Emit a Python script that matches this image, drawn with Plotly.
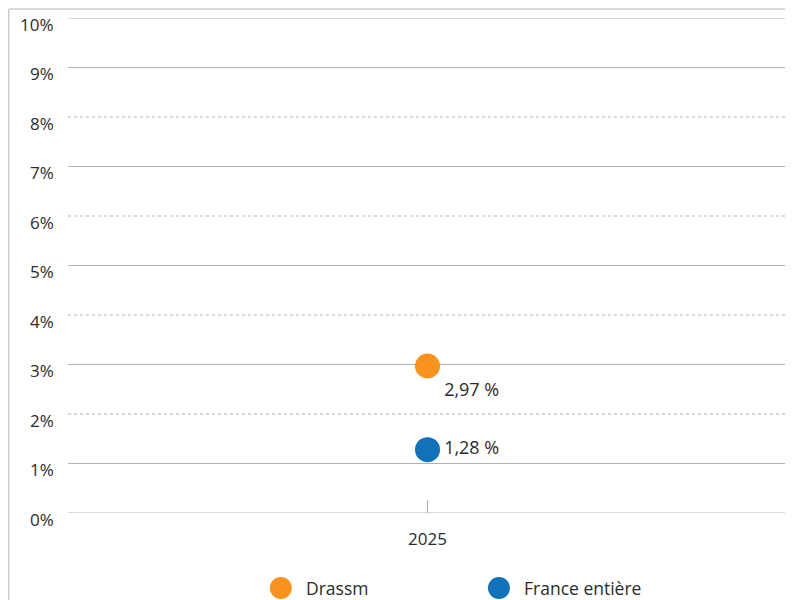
import plotly.graph_objects as go

categories = ["2025"]
series_names = ["Drassm", "France entière"]
drassm_values = [2.97]
france_values = [1.28]
drassm_labels = ["2,97 %"]
france_labels = ["1,28 %"]
y_ticks = [0, 1, 2, 3, 4, 5, 6, 7, 8, 9, 10]
y_tick_labels = [f"{v}%" for v in y_ticks]

ORANGE = "#F7931E"
BLUE = "#1172BA"
TEXT = "#2b2b2b"
GRID = "#b3b3b3"
FONT = "Open Sans"

fig = go.Figure()
fig.add_trace(go.Scatter(
    x=categories, y=drassm_values, mode="markers+text", name=series_names[0],
    marker=dict(size=25, color=ORANGE), text=drassm_labels,
    textposition="bottom right", textfont=dict(size=18, color=TEXT, family=FONT),
    showlegend=False, cliponaxis=False))
fig.add_trace(go.Scatter(
    x=categories, y=france_values, mode="markers+text", name=series_names[1],
    marker=dict(size=25, color=BLUE), text=france_labels,
    textposition="middle right", textfont=dict(size=18, color=TEXT, family=FONT),
    showlegend=False, cliponaxis=False))

shapes = []
annotations = []
for v, lab in zip(y_ticks, y_tick_labels):
    dotted = (v % 2 == 0) and v not in (y_ticks[0], y_ticks[-1])
    shapes.append(dict(type="line", xref="paper", yref="y", x0=0, x1=1, y0=v, y1=v,
                       line=dict(color=GRID, width=1, dash="dot" if dotted else "solid"),
                       layer="below"))
    # y tick labels, sitting slightly below their gridline as in the reference
    annotations.append(dict(xref="paper", yref="y", x=0, y=v, text=lab,
                            showarrow=False, xanchor="right", yanchor="middle",
                            xshift=-12, yshift=-6,
                            font=dict(size=17, color=TEXT, family=FONT)))

# outer frame lines (left and top)
shapes.append(dict(type="line", xref="paper", yref="paper", x0=-0.0824, x1=-0.0824,
                   y0=1.0182, y1=-0.2, line=dict(color="#cccccc", width=1.5)))
shapes.append(dict(type="line", xref="paper", yref="paper", x0=-0.0824, x1=1.02,
                   y0=1.0182, y1=1.0182, line=dict(color="#cccccc", width=1.5)))

# custom legend
legend_x = [0.296, 0.5994]
legend_colors = [ORANGE, BLUE]
for name, lx, col in zip(series_names, legend_x, legend_colors):
    shapes.append(dict(type="circle", xref="paper", yref="paper",
                       xsizemode="pixel", ysizemode="pixel",
                       xanchor=lx, yanchor=-0.1515,
                       x0=-11, x1=11, y0=-11, y1=11,
                       fillcolor=col, line=dict(width=0)))
    annotations.append(dict(xref="paper", yref="paper", x=lx, y=-0.1515,
                            xshift=23, text=name, showarrow=False,
                            xanchor="left", yanchor="middle",
                            font=dict(size=17.5, color=TEXT, family=FONT)))

fig.update_layout(
    width=785, height=592,
    margin=dict(l=60, r=6, t=10, b=87, autoexpand=False),
    paper_bgcolor="white", plot_bgcolor="white",
    font=dict(family=FONT, size=16, color=TEXT),
    shapes=shapes, annotations=annotations,
    xaxis=dict(type="category", showgrid=False, zeroline=False, showline=False,
               ticks="inside", ticklen=13, tickcolor=GRID, tickwidth=1,
               ticklabelstandoff=14, tickfont=dict(size=17, color=TEXT, family=FONT),
               automargin=False, fixedrange=True),
    yaxis=dict(range=[0, 10], tickvals=y_ticks, showticklabels=False,
               showgrid=False, zeroline=False, showline=False,
               automargin=False, fixedrange=True),
)

fig.write_html("out.html")
